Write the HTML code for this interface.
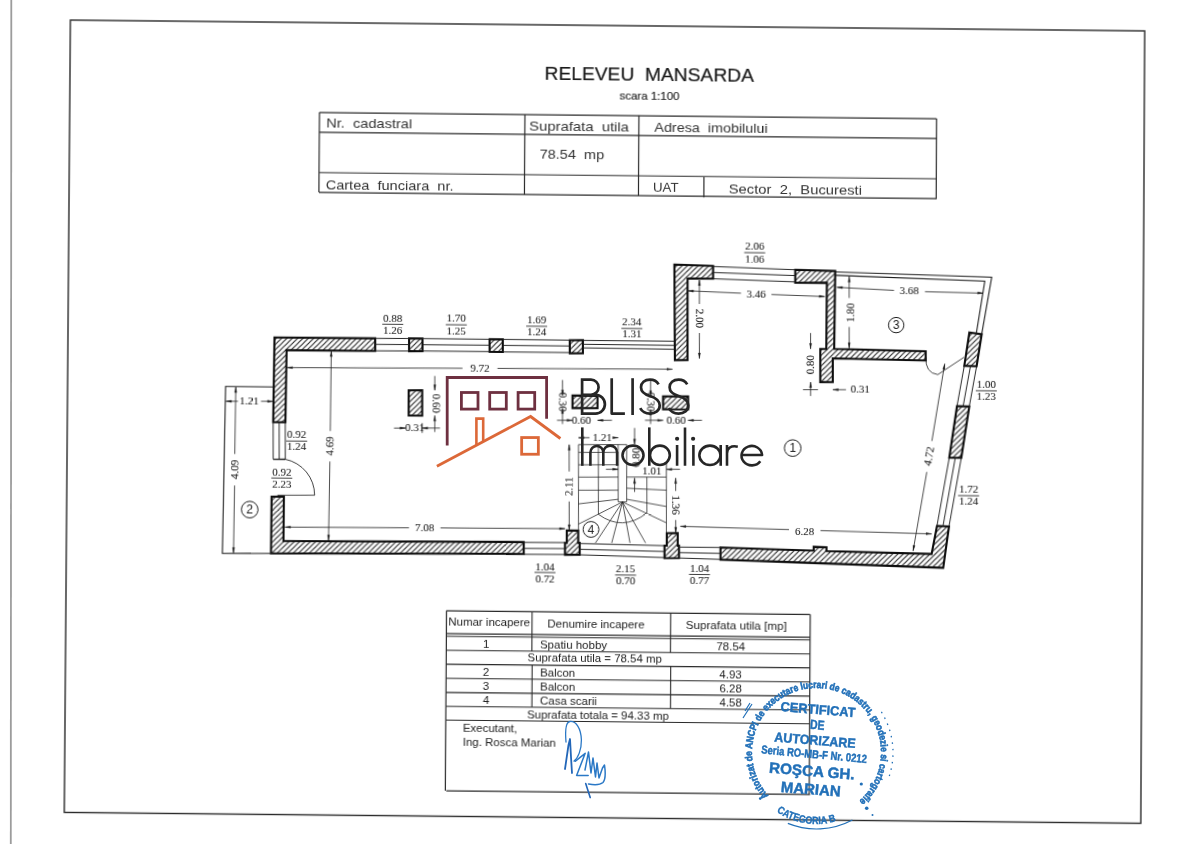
<!DOCTYPE html>
<html><head><meta charset="utf-8"><style>
html,body{margin:0;padding:0;background:#fff;}
body{width:1200px;height:844px;overflow:hidden;position:relative;}
svg{position:absolute;left:0;top:0;}
#doc{transform-origin:0 0;transform:matrix3d(0.999186472,0.0100431101,0,-9.12338465e-08,-0.00786254759,0.997594461,0,-2.57904967e-06,0,0,1,0,0.610116995,-0.556072081,0,1);}
</style></head><body>
<svg id="doc" width="1200" height="844" viewBox="0 0 1200 844">
<defs><pattern id="hatch" patternUnits="userSpaceOnUse" width="5.3" height="5.3"><path d="M-1,1 L1,-1 M0,5.3 L5.3,0 M4.3,6.3 L6.3,4.3" stroke="#141414" stroke-width="1.05"/></pattern></defs>
<rect x="70" y="20" width="1075" height="792.5" fill="none" stroke="#2a2a2a" stroke-width="1.4"/>
<text xml:space="preserve" x="544.79" y="75.05" font-family="Liberation Sans" font-size="18.5" text-anchor="start" fill="#1a1a1a" font-weight="normal" textLength="209.5" lengthAdjust="spacingAndGlyphs" stroke="#1a1a1a" stroke-width="0.2">RELEVEU  MANSARDA</text>
<text xml:space="preserve" x="619.95" y="93.73" font-family="Liberation Sans" font-size="11" text-anchor="start" fill="#222" font-weight="normal" textLength="60" lengthAdjust="spacingAndGlyphs" stroke="#222" stroke-width="0.15">scara 1:100</text>
<line x1="319.82" y1="110.07" x2="937.17" y2="110.07" stroke="#2a2a2a" stroke-width="1.2"/>
<line x1="319.96" y1="129.95" x2="937.18" y2="129.95" stroke="#2a2a2a" stroke-width="1.2"/>
<line x1="320.04" y1="170.26" x2="937.3" y2="170.26" stroke="#2a2a2a" stroke-width="1.2"/>
<line x1="319.98" y1="190.19" x2="937.41" y2="190.19" stroke="#2a2a2a" stroke-width="1.2"/>
<line x1="319.9" y1="110.07" x2="319.9" y2="190" stroke="#2a2a2a" stroke-width="1.2"/>
<line x1="937.29" y1="110.06" x2="937.29" y2="190.38" stroke="#2a2a2a" stroke-width="1.2"/>
<line x1="525.47" y1="110.01" x2="525.47" y2="189.93" stroke="#2a2a2a" stroke-width="1.2"/>
<line x1="639.5" y1="109.86" x2="639.5" y2="189.98" stroke="#2a2a2a" stroke-width="1.2"/>
<line x1="704.91" y1="170.8" x2="704.91" y2="191.33" stroke="#2a2a2a" stroke-width="1.2"/>
<text xml:space="preserve" x="326.73" y="125.33" font-family="Liberation Sans" font-size="12.6" text-anchor="start" fill="#333" font-weight="normal" textLength="86" lengthAdjust="spacingAndGlyphs" >Nr.  cadastral</text>
<text xml:space="preserve" x="529.81" y="125.99" font-family="Liberation Sans" font-size="12.6" text-anchor="start" fill="#333" font-weight="normal" textLength="99.8" lengthAdjust="spacingAndGlyphs" >Suprafata  utila</text>
<text xml:space="preserve" x="540.4" y="154.03" font-family="Liberation Sans" font-size="12.6" text-anchor="start" fill="#333" font-weight="normal" textLength="64.7" lengthAdjust="spacingAndGlyphs" >78.54  mp</text>
<text xml:space="preserve" x="326.66" y="186.53" font-family="Liberation Sans" font-size="12.6" text-anchor="start" fill="#333" font-weight="normal" textLength="127.9" lengthAdjust="spacingAndGlyphs" >Cartea  funciara  nr.</text>
<text xml:space="preserve" x="655.06" y="126.23" font-family="Liberation Sans" font-size="12.6" text-anchor="start" fill="#333" font-weight="normal" textLength="113.3" lengthAdjust="spacingAndGlyphs" >Adresa  imobilului</text>
<text xml:space="preserve" x="654.03" y="185.93" font-family="Liberation Sans" font-size="12.6" text-anchor="start" fill="#333" font-weight="normal" textLength="25.6" lengthAdjust="spacingAndGlyphs" >UAT</text>
<text xml:space="preserve" x="729.65" y="186.57" font-family="Liberation Sans" font-size="12.6" text-anchor="start" fill="#333" font-weight="normal" textLength="133.4" lengthAdjust="spacingAndGlyphs" >Sector  2,  Bucuresti</text>
<polygon points="276.51,335.69 377.2,335.57 377.29,348.28 288.7,348.37 288.01,420.41 275.82,420.53" fill="url(#hatch)" stroke="#0d0d0d" stroke-width="2.1" stroke-linejoin="miter"/>
<polygon points="411.09,335.33 424.49,335.19 424.58,348 411.18,348.14" fill="url(#hatch)" stroke="#0d0d0d" stroke-width="2.1" stroke-linejoin="miter"/>
<polygon points="491.58,335.42 504.78,335.28 504.86,347.89 491.66,348.02" fill="url(#hatch)" stroke="#0d0d0d" stroke-width="2.1" stroke-linejoin="miter"/>
<polygon points="571.77,335.51 584.87,335.38 584.95,348.48 571.85,348.62" fill="url(#hatch)" stroke="#0d0d0d" stroke-width="2.1" stroke-linejoin="miter"/>
<polygon points="675.88,258.8 714.59,259.81 714.67,272.57 689.17,272.58 689.56,354.23 676.97,354.36" fill="url(#hatch)" stroke="#0d0d0d" stroke-width="2.1" stroke-linejoin="miter"/>
<polygon points="796.76,262.73 836.76,263.58 836.16,341.55 927.64,343.02 927.69,352.23 834.81,350.96 834.95,374.77 822.45,374.9 822.26,341.69 828.26,341.63 828.48,275.43 796.83,275.75" fill="url(#hatch)" stroke="#0d0d0d" stroke-width="2.1" stroke-linejoin="miter"/>
<polygon points="971.23,323.77 983.54,325.45 978.61,357.52 966.31,357.14" fill="url(#hatch)" stroke="#0d0d0d" stroke-width="2.1" stroke-linejoin="miter"/>
<polygon points="959.23,397.63 971.53,397.7 963.81,449.19 951.81,449.11" fill="url(#hatch)" stroke="#0d0d0d" stroke-width="2.1" stroke-linejoin="miter"/>
<polygon points="939.89,517.51 951.89,517.99 946.32,559.33 723.75,553.38 723.68,541.29 816.83,543.45 816.8,539.65 829.6,539.92 829.62,543.72 934.65,545.66" fill="url(#hatch)" stroke="#0d0d0d" stroke-width="2.1" stroke-linejoin="miter"/>
<polygon points="274.75,494.94 287.04,494.82 286.96,539.2 527.05,537.78 527.12,549.67 274.56,551.72" fill="url(#hatch)" stroke="#0d0d0d" stroke-width="2.1" stroke-linejoin="miter"/>
<polygon points="569.99,525.85 581.38,525.73 581.46,538.13 582.96,538.11 583.04,550.01 568.35,550.16 568.27,538.26 570.07,538.24" fill="url(#hatch)" stroke="#0d0d0d" stroke-width="2.1" stroke-linejoin="miter"/>
<polygon points="669.93,527.54 680.83,527.43 680.9,539.92 682.2,539.91 682.28,552.3 667.79,552.45 667.71,540.06 670.01,540.03" fill="url(#hatch)" stroke="#0d0d0d" stroke-width="2.1" stroke-linejoin="miter"/>
<polygon points="411.05,387.26 424.54,387.12 424.71,412.42 411.22,412.56" fill="url(#hatch)" stroke="#0d0d0d" stroke-width="2.1" stroke-linejoin="miter"/>
<polygon points="574.82,390.9 599.81,390.65 599.89,403.15 574.9,403.41" fill="url(#hatch)" stroke="#0d0d0d" stroke-width="2.1" stroke-linejoin="miter"/>
<polygon points="665.39,390.69 690.39,390.44 690.46,403.54 665.48,403.79" fill="url(#hatch)" stroke="#0d0d0d" stroke-width="2.1" stroke-linejoin="miter"/>
<line x1="377.2" y1="335.67" x2="411.09" y2="335.43" stroke="#1e1e1e" stroke-width="0.95" />
<line x1="377.24" y1="341.67" x2="411.13" y2="341.53" stroke="#1e1e1e" stroke-width="0.95" />
<line x1="377.28" y1="348.08" x2="411.18" y2="347.94" stroke="#1e1e1e" stroke-width="0.95" />
<line x1="424.49" y1="335.39" x2="491.58" y2="335.42" stroke="#1e1e1e" stroke-width="0.95" />
<line x1="424.53" y1="341.5" x2="491.62" y2="341.32" stroke="#1e1e1e" stroke-width="0.95" />
<line x1="424.57" y1="347.8" x2="491.66" y2="347.72" stroke="#1e1e1e" stroke-width="0.95" />
<line x1="504.78" y1="335.38" x2="571.77" y2="335.51" stroke="#1e1e1e" stroke-width="0.95" />
<line x1="504.82" y1="341.39" x2="571.81" y2="341.31" stroke="#1e1e1e" stroke-width="0.95" />
<line x1="504.86" y1="347.89" x2="571.85" y2="347.92" stroke="#1e1e1e" stroke-width="0.95" />
<line x1="584.87" y1="335.58" x2="676.55" y2="335.5" stroke="#1e1e1e" stroke-width="0.95" />
<line x1="584.89" y1="339.48" x2="676.58" y2="339.65" stroke="#1e1e1e" stroke-width="0.95" />
<line x1="584.92" y1="343.08" x2="676.6" y2="343.56" stroke="#1e1e1e" stroke-width="0.95" />
<line x1="714.59" y1="260.31" x2="796.76" y2="262.73" stroke="#1e1e1e" stroke-width="0.95" />
<line x1="714.63" y1="266.31" x2="796.79" y2="268.59" stroke="#1e1e1e" stroke-width="0.95" />
<line x1="714.67" y1="272.57" x2="796.83" y2="274.89" stroke="#1e1e1e" stroke-width="0.95" />
<line x1="527.05" y1="538.18" x2="568.27" y2="537.96" stroke="#1e1e1e" stroke-width="0.95" />
<line x1="527.09" y1="544.18" x2="568.31" y2="543.96" stroke="#1e1e1e" stroke-width="0.95" />
<line x1="527.13" y1="550.07" x2="568.34" y2="549.86" stroke="#1e1e1e" stroke-width="0.95" />
<line x1="582.96" y1="538.71" x2="667.71" y2="540.06" stroke="#1e1e1e" stroke-width="0.95" />
<line x1="583" y1="544.51" x2="667.75" y2="545.85" stroke="#1e1e1e" stroke-width="0.95" />
<line x1="583.04" y1="550.01" x2="667.79" y2="551.95" stroke="#1e1e1e" stroke-width="0.95" />
<line x1="682.21" y1="541.31" x2="723.68" y2="541.29" stroke="#1e1e1e" stroke-width="0.95" />
<line x1="682.24" y1="546.81" x2="723.72" y2="547.19" stroke="#1e1e1e" stroke-width="0.95" />
<line x1="682.28" y1="552.2" x2="723.75" y2="553.18" stroke="#1e1e1e" stroke-width="0.95" />
<line x1="966.31" y1="357.14" x2="959.23" y2="397.63" stroke="#1e1e1e" stroke-width="0.95" />
<line x1="972.51" y1="357.28" x2="965.33" y2="397.67" stroke="#1e1e1e" stroke-width="0.95" />
<line x1="978.61" y1="357.52" x2="971.53" y2="397.7" stroke="#1e1e1e" stroke-width="0.95" />
<line x1="951.81" y1="449.11" x2="939.89" y2="517.51" stroke="#1e1e1e" stroke-width="0.95" />
<line x1="957.81" y1="449.15" x2="945.89" y2="517.75" stroke="#1e1e1e" stroke-width="0.95" />
<line x1="963.81" y1="449.19" x2="951.89" y2="517.99" stroke="#1e1e1e" stroke-width="0.95" />
<line x1="275.82" y1="420.53" x2="276.08" y2="457.63" stroke="#1e1e1e" stroke-width="0.95" />
<line x1="281.82" y1="420.47" x2="282.08" y2="457.57" stroke="#1e1e1e" stroke-width="0.95" />
<line x1="287.91" y1="420.41" x2="288.18" y2="457.51" stroke="#1e1e1e" stroke-width="0.95" />
<line x1="276.08" y1="457.63" x2="288.18" y2="457.51" stroke="#1e1e1e" stroke-width="1.4" />
<polyline points="836.77,264.48 993.23,268.31 983.54,325.45" fill="none" stroke="#1e1e1e" stroke-width="1.1" />
<polyline points="836.79,267.84 986.35,272.28 978.13,324.8" fill="none" stroke="#1e1e1e" stroke-width="1.1" />
<polyline points="275.56,385.22 227.98,385.2 225.99,552.22 274.56,551.72" fill="none" stroke="#1e1e1e" stroke-width="1.1" />
<path d="M288.18,457.51 A36.4,36.4 0 0 1 317.72,493.11" fill="none" stroke="#1e1e1e" stroke-width="0.85"/>
<line x1="280.64" y1="493.48" x2="317.92" y2="493.11" stroke="#1e1e1e" stroke-width="0.8" />
<path d="M 927.88,348.72 Q 927.06,364.74 939.87,366.21" fill="none" stroke="#1e1e1e" stroke-width="0.8"/>
<line x1="939.87" y1="366.21" x2="965.97" y2="348.64" stroke="#1e1e1e" stroke-width="0.8" />
<line x1="581.13" y1="439.85" x2="581.76" y2="538.23" stroke="#1e1e1e" stroke-width="0.75" />
<line x1="581.13" y1="439.85" x2="629.31" y2="439.36" stroke="#1e1e1e" stroke-width="0.75" />
<line x1="620.81" y1="439.45" x2="621.17" y2="496.74" stroke="#1e1e1e" stroke-width="0.75" />
<line x1="629.31" y1="439.36" x2="629.67" y2="496.66" stroke="#1e1e1e" stroke-width="0.75" />
<line x1="621.17" y1="496.74" x2="629.67" y2="496.66" stroke="#1e1e1e" stroke-width="0.75" />
<line x1="629.51" y1="471.86" x2="669.19" y2="471.46" stroke="#1e1e1e" stroke-width="0.75" />
<line x1="669.19" y1="471.46" x2="669.53" y2="527.34" stroke="#1e1e1e" stroke-width="0.75" />
<line x1="601.02" y1="439.65" x2="601.46" y2="509.34" stroke="#1e1e1e" stroke-width="0.75" />
<line x1="649.7" y1="471.66" x2="649.92" y2="507.55" stroke="#1e1e1e" stroke-width="0.75" />
<line x1="581.18" y1="447.65" x2="620.86" y2="447.25" stroke="#1e1e1e" stroke-width="0.75" />
<line x1="581.26" y1="460.05" x2="620.94" y2="459.65" stroke="#1e1e1e" stroke-width="0.75" />
<line x1="581.34" y1="472.35" x2="621.02" y2="471.95" stroke="#1e1e1e" stroke-width="0.75" />
<line x1="581.42" y1="485.44" x2="621.1" y2="485.04" stroke="#1e1e1e" stroke-width="0.75" />
<line x1="581.51" y1="499.14" x2="621.16" y2="494.14" stroke="#1e1e1e" stroke-width="0.75" />
<line x1="629.58" y1="482.96" x2="669.27" y2="484.56" stroke="#1e1e1e" stroke-width="0.75" />
<line x1="629.65" y1="494.06" x2="669.37" y2="500.85" stroke="#1e1e1e" stroke-width="0.75" />
<line x1="625.47" y1="496.8" x2="581.64" y2="519.33" stroke="#1e1e1e" stroke-width="0.75" />
<line x1="625.47" y1="496.8" x2="598.65" y2="538.05" stroke="#1e1e1e" stroke-width="0.75" />
<line x1="625.47" y1="496.8" x2="614.94" y2="537.89" stroke="#1e1e1e" stroke-width="0.75" />
<line x1="625.47" y1="496.8" x2="633.22" y2="537.71" stroke="#1e1e1e" stroke-width="0.75" />
<line x1="625.47" y1="496.8" x2="648.81" y2="537.55" stroke="#1e1e1e" stroke-width="0.75" />
<line x1="625.47" y1="496.8" x2="669.47" y2="517.15" stroke="#1e1e1e" stroke-width="0.75" />
<path d="M 601.46,509.34 Q 625.66,526.79 649.92,507.55" fill="none" stroke="#1e1e1e" stroke-width="0.75"/>
<line x1="289.22" y1="365.77" x2="464.68" y2="364.7" stroke="#1e1e1e" stroke-width="0.8" />
<line x1="499.67" y1="364.45" x2="674.52" y2="363.49" stroke="#1e1e1e" stroke-width="0.8" />
<polygon points="289.22,365.77 294.72,364.64 294.72,366.84" fill="#1e1e1e" stroke="#1e1e1e" stroke-width="0.3" />
<polygon points="674.52,363.49 669.03,364.62 669.02,362.42" fill="#1e1e1e" stroke="#1e1e1e" stroke-width="0.3" />
<line x1="333.39" y1="348.72" x2="332.96" y2="428.75" stroke="#1e1e1e" stroke-width="0.8" />
<line x1="332.77" y1="459.26" x2="331.93" y2="538.25" stroke="#1e1e1e" stroke-width="0.8" />
<polygon points="333.39,348.72 334.45,354.23 332.25,354.22" fill="#1e1e1e" stroke="#1e1e1e" stroke-width="0.3" />
<polygon points="331.93,538.25 330.87,532.75 333.07,532.76" fill="#1e1e1e" stroke="#1e1e1e" stroke-width="0.3" />
<line x1="288.36" y1="525.3" x2="412.28" y2="524.74" stroke="#1e1e1e" stroke-width="0.8" />
<line x1="443.76" y1="524.53" x2="568.18" y2="524.07" stroke="#1e1e1e" stroke-width="0.8" />
<polygon points="288.36,525.3 293.86,524.17 293.86,526.37" fill="#1e1e1e" stroke="#1e1e1e" stroke-width="0.3" />
<polygon points="568.18,524.07 562.68,525.19 562.68,522.99" fill="#1e1e1e" stroke="#1e1e1e" stroke-width="0.3" />
<line x1="683.48" y1="520.5" x2="792.02" y2="522.71" stroke="#1e1e1e" stroke-width="0.8" />
<line x1="823.51" y1="523.39" x2="934.54" y2="525.57" stroke="#1e1e1e" stroke-width="0.8" />
<polygon points="683.48,520.5 689,519.52 688.95,521.71" fill="#1e1e1e" stroke="#1e1e1e" stroke-width="0.3" />
<polygon points="934.54,525.57 929.02,526.55 929.07,524.36" fill="#1e1e1e" stroke="#1e1e1e" stroke-width="0.3" />
<line x1="238.18" y1="385.7" x2="237.66" y2="452.72" stroke="#1e1e1e" stroke-width="0.8" />
<line x1="237.69" y1="484.22" x2="237.08" y2="551.7" stroke="#1e1e1e" stroke-width="0.8" />
<polygon points="238.18,385.7 239.24,391.2 237.04,391.2" fill="#1e1e1e" stroke="#1e1e1e" stroke-width="0.3" />
<polygon points="237.08,551.7 236.02,546.2 238.22,546.21" fill="#1e1e1e" stroke="#1e1e1e" stroke-width="0.3" />
<line x1="228.48" y1="400.1" x2="240.48" y2="399.98" stroke="#1e1e1e" stroke-width="0.8" />
<line x1="263.47" y1="399.75" x2="275.47" y2="399.63" stroke="#1e1e1e" stroke-width="0.8" />
<polygon points="228.48,400.1 233.97,398.95 233.99,401.15" fill="#1e1e1e" stroke="#1e1e1e" stroke-width="0.3" />
<polygon points="275.47,399.63 269.98,400.78 269.96,398.58" fill="#1e1e1e" stroke="#1e1e1e" stroke-width="0.3" />
<line x1="689.64" y1="284.88" x2="742.65" y2="286.75" stroke="#1e1e1e" stroke-width="0.8" />
<line x1="773.15" y1="287.74" x2="826.36" y2="289.31" stroke="#1e1e1e" stroke-width="0.8" />
<polygon points="689.64,284.88 695.18,283.96 695.1,286.16" fill="#1e1e1e" stroke="#1e1e1e" stroke-width="0.3" />
<polygon points="826.36,289.31 820.82,290.23 820.9,288.03" fill="#1e1e1e" stroke="#1e1e1e" stroke-width="0.3" />
<line x1="838.6" y1="279.88" x2="895.61" y2="282.41" stroke="#1e1e1e" stroke-width="0.8" />
<line x1="926.62" y1="283.39" x2="984.82" y2="284.31" stroke="#1e1e1e" stroke-width="0.8" />
<polygon points="838.6,279.88 844.14,278.94 844.06,281.14" fill="#1e1e1e" stroke="#1e1e1e" stroke-width="0.3" />
<polygon points="984.82,284.31 979.28,285.24 979.36,283.04" fill="#1e1e1e" stroke="#1e1e1e" stroke-width="0.3" />
<line x1="700.98" y1="273.96" x2="701.12" y2="297.98" stroke="#1e1e1e" stroke-width="0.8" />
<line x1="701.3" y1="327" x2="701.45" y2="352.51" stroke="#1e1e1e" stroke-width="0.8" />
<polygon points="700.98,273.96 702.11,279.45 699.91,279.48" fill="#1e1e1e" stroke="#1e1e1e" stroke-width="0.3" />
<polygon points="701.45,352.51 700.32,347.02 702.52,347" fill="#1e1e1e" stroke="#1e1e1e" stroke-width="0.3" />
<line x1="850.74" y1="269.05" x2="850.86" y2="290.46" stroke="#1e1e1e" stroke-width="0.8" />
<line x1="851.03" y1="319.48" x2="851.15" y2="340.69" stroke="#1e1e1e" stroke-width="0.8" />
<polygon points="850.74,269.05 851.87,274.54 849.67,274.56" fill="#1e1e1e" stroke="#1e1e1e" stroke-width="0.3" />
<polygon points="851.15,340.69 850.02,335.2 852.22,335.18" fill="#1e1e1e" stroke="#1e1e1e" stroke-width="0.3" />
<line x1="946.71" y1="355.44" x2="934.33" y2="432.68" stroke="#1e1e1e" stroke-width="0.8" />
<line x1="929.41" y1="463.73" x2="916.15" y2="542.74" stroke="#1e1e1e" stroke-width="0.8" />
<polygon points="946.71,355.44 946.91,361.05 944.74,360.7" fill="#1e1e1e" stroke="#1e1e1e" stroke-width="0.3" />
<polygon points="916.15,542.74 915.95,537.14 918.12,537.49" fill="#1e1e1e" stroke="#1e1e1e" stroke-width="0.3" />
<line x1="571.84" y1="439.94" x2="572.01" y2="466.84" stroke="#1e1e1e" stroke-width="0.8" />
<line x1="572.2" y1="496.84" x2="572.39" y2="525.53" stroke="#1e1e1e" stroke-width="0.8" />
<polygon points="571.84,439.94 572.97,445.43 570.77,445.45" fill="#1e1e1e" stroke="#1e1e1e" stroke-width="0.3" />
<polygon points="572.39,525.53 571.25,520.04 573.45,520.02" fill="#1e1e1e" stroke="#1e1e1e" stroke-width="0.3" />
<line x1="678.49" y1="472.27" x2="678.57" y2="485.26" stroke="#1e1e1e" stroke-width="0.8" />
<line x1="678.75" y1="514.25" x2="678.83" y2="527.05" stroke="#1e1e1e" stroke-width="0.8" />
<polygon points="678.49,472.27 679.62,477.75 677.42,477.78" fill="#1e1e1e" stroke="#1e1e1e" stroke-width="0.3" />
<polygon points="678.83,527.05 677.69,521.56 679.89,521.54" fill="#1e1e1e" stroke="#1e1e1e" stroke-width="0.3" />
<line x1="581.09" y1="432.95" x2="592.08" y2="432.84" stroke="#1e1e1e" stroke-width="0.8" />
<line x1="617.57" y1="432.58" x2="620.77" y2="432.55" stroke="#1e1e1e" stroke-width="0.8" />
<polygon points="581.09,432.95 586.58,431.79 586.59,433.99" fill="#1e1e1e" stroke="#1e1e1e" stroke-width="0.3" />
<polygon points="620.77,432.55 615.28,433.7 615.27,431.5" fill="#1e1e1e" stroke="#1e1e1e" stroke-width="0.3" />
<line x1="608.78" y1="464.27" x2="620.97" y2="464.15" stroke="#1e1e1e" stroke-width="0.8" />
<polygon points="620.97,464.15 615.48,465.3 615.47,463.1" fill="#1e1e1e" stroke="#1e1e1e" stroke-width="0.3" />
<line x1="669.14" y1="463.66" x2="682.73" y2="463.52" stroke="#1e1e1e" stroke-width="0.8" />
<polygon points="669.14,463.66 674.63,462.51 674.65,464.71" fill="#1e1e1e" stroke="#1e1e1e" stroke-width="0.3" />
<line x1="669.14" y1="456.36" x2="669.14" y2="471.46" stroke="#1e1e1e" stroke-width="0.8"/>
<line x1="637.1" y1="422.68" x2="637.21" y2="439.28" stroke="#1e1e1e" stroke-width="0.8" />
<polygon points="637.21,439.28 636.07,433.79 638.27,433.77" fill="#1e1e1e" stroke="#1e1e1e" stroke-width="0.3" />
<line x1="637.41" y1="472.68" x2="637.5" y2="486.68" stroke="#1e1e1e" stroke-width="0.8" />
<polygon points="637.41,472.68 638.55,478.17 636.35,478.19" fill="#1e1e1e" stroke="#1e1e1e" stroke-width="0.3" />
<line x1="437.04" y1="372.69" x2="437.14" y2="386.99" stroke="#1e1e1e" stroke-width="0.8" />
<polygon points="437.14,386.99 436,381.5 438.2,381.48" fill="#1e1e1e" stroke="#1e1e1e" stroke-width="0.3" />
<line x1="437.31" y1="412.3" x2="437.42" y2="428.7" stroke="#1e1e1e" stroke-width="0.8" />
<polygon points="437.31,412.3 438.44,417.79 436.25,417.81" fill="#1e1e1e" stroke="#1e1e1e" stroke-width="0.3" />
<line x1="396.61" y1="425.21" x2="408.1" y2="425.09" stroke="#1e1e1e" stroke-width="0.8" />
<polygon points="408.1,425.09 402.61,426.25 402.6,424.05" fill="#1e1e1e" stroke="#1e1e1e" stroke-width="0.3" />
<line x1="424.8" y1="424.93" x2="442.59" y2="424.75" stroke="#1e1e1e" stroke-width="0.8" />
<polygon points="424.8,424.93 430.29,423.77 430.3,425.97" fill="#1e1e1e" stroke="#1e1e1e" stroke-width="0.3" />
<line x1="424.76" y1="419.83" x2="424.83" y2="429.83" stroke="#1e1e1e" stroke-width="0.8" />
<line x1="564.73" y1="375.4" x2="564.83" y2="391" stroke="#1e1e1e" stroke-width="0.8" />
<polygon points="564.83,391 563.69,385.51 565.89,385.49" fill="#1e1e1e" stroke="#1e1e1e" stroke-width="0.3" />
<line x1="564.91" y1="403.51" x2="565.01" y2="419.41" stroke="#1e1e1e" stroke-width="0.8" />
<polygon points="564.91,403.51 566.04,409 563.84,409.02" fill="#1e1e1e" stroke="#1e1e1e" stroke-width="0.3" />
<line x1="559.49" y1="415.77" x2="574.98" y2="415.61" stroke="#1e1e1e" stroke-width="0.8" />
<polygon points="574.98,415.61 569.49,416.76 569.48,414.56" fill="#1e1e1e" stroke="#1e1e1e" stroke-width="0.3" />
<line x1="599.97" y1="415.36" x2="614.46" y2="415.21" stroke="#1e1e1e" stroke-width="0.8" />
<polygon points="599.97,415.36 605.46,414.2 605.48,416.4" fill="#1e1e1e" stroke="#1e1e1e" stroke-width="0.3" />
<line x1="652.8" y1="374.51" x2="652.9" y2="390.82" stroke="#1e1e1e" stroke-width="0.8" />
<polygon points="652.9,390.82 651.77,385.33 653.96,385.3" fill="#1e1e1e" stroke="#1e1e1e" stroke-width="0.3" />
<line x1="652.98" y1="403.92" x2="653.07" y2="418.52" stroke="#1e1e1e" stroke-width="0.8" />
<polygon points="652.98,403.92 654.11,409.41 651.91,409.43" fill="#1e1e1e" stroke="#1e1e1e" stroke-width="0.3" />
<line x1="647.45" y1="414.88" x2="665.54" y2="414.69" stroke="#1e1e1e" stroke-width="0.8" />
<polygon points="665.54,414.69 660.05,415.85 660.04,413.65" fill="#1e1e1e" stroke="#1e1e1e" stroke-width="0.3" />
<line x1="690.53" y1="414.44" x2="704.43" y2="414.3" stroke="#1e1e1e" stroke-width="0.8" />
<polygon points="690.53,414.44 696.02,413.29 696.04,415.49" fill="#1e1e1e" stroke="#1e1e1e" stroke-width="0.3" />
<line x1="812.47" y1="325.88" x2="812.56" y2="341.78" stroke="#1e1e1e" stroke-width="0.8" />
<polygon points="812.56,341.78 811.43,336.29 813.63,336.27" fill="#1e1e1e" stroke="#1e1e1e" stroke-width="0.3" />
<line x1="812.76" y1="375" x2="812.84" y2="388.9" stroke="#1e1e1e" stroke-width="0.8" />
<polygon points="812.76,375 813.89,380.49 811.69,380.51" fill="#1e1e1e" stroke="#1e1e1e" stroke-width="0.3" />
<line x1="805.2" y1="382.68" x2="820.2" y2="382.53" stroke="#1e1e1e" stroke-width="0.8" />
<line x1="834.99" y1="382.38" x2="848.19" y2="382.24" stroke="#1e1e1e" stroke-width="0.8" />
<polygon points="834.99,382.38 840.48,381.22 840.5,383.42" fill="#1e1e1e" stroke="#1e1e1e" stroke-width="0.3" />
<text xml:space="preserve" x="394.66" y="318.58" font-family="Liberation Serif" font-size="11" text-anchor="middle" fill="#1e1e1e" font-weight="normal"  stroke="#1e1e1e" stroke-width="0.08">0.88</text>
<text xml:space="preserve" x="394.74" y="331.19" font-family="Liberation Serif" font-size="11" text-anchor="middle" fill="#1e1e1e" font-weight="normal"  stroke="#1e1e1e" stroke-width="0.08">1.26</text>
<line x1="384.2" y1="321.38" x2="405.2" y2="321.38" stroke="#1e1e1e" stroke-width="0.85"/>
<text xml:space="preserve" x="458.15" y="318.34" font-family="Liberation Serif" font-size="11" text-anchor="middle" fill="#1e1e1e" font-weight="normal"  stroke="#1e1e1e" stroke-width="0.08">1.70</text>
<text xml:space="preserve" x="458.23" y="330.95" font-family="Liberation Serif" font-size="11" text-anchor="middle" fill="#1e1e1e" font-weight="normal"  stroke="#1e1e1e" stroke-width="0.08">1.25</text>
<line x1="447.69" y1="321.24" x2="468.69" y2="321.24" stroke="#1e1e1e" stroke-width="0.85"/>
<text xml:space="preserve" x="538.55" y="319.43" font-family="Liberation Serif" font-size="11" text-anchor="middle" fill="#1e1e1e" font-weight="normal"  stroke="#1e1e1e" stroke-width="0.08">1.69</text>
<text xml:space="preserve" x="538.63" y="331.44" font-family="Liberation Serif" font-size="11" text-anchor="middle" fill="#1e1e1e" font-weight="normal"  stroke="#1e1e1e" stroke-width="0.08">1.24</text>
<line x1="528.09" y1="321.93" x2="549.09" y2="321.93" stroke="#1e1e1e" stroke-width="0.85"/>
<text xml:space="preserve" x="633.75" y="320.37" font-family="Liberation Serif" font-size="11" text-anchor="middle" fill="#1e1e1e" font-weight="normal"  stroke="#1e1e1e" stroke-width="0.08">2.34</text>
<text xml:space="preserve" x="633.82" y="332.18" font-family="Liberation Serif" font-size="11" text-anchor="middle" fill="#1e1e1e" font-weight="normal"  stroke="#1e1e1e" stroke-width="0.08">1.31</text>
<line x1="623.29" y1="323.18" x2="644.28" y2="323.18" stroke="#1e1e1e" stroke-width="0.85"/>
<text xml:space="preserve" x="756.07" y="243.17" font-family="Liberation Serif" font-size="11" text-anchor="middle" fill="#1e1e1e" font-weight="normal"  stroke="#1e1e1e" stroke-width="0.08">2.06</text>
<text xml:space="preserve" x="756.15" y="255.58" font-family="Liberation Serif" font-size="11" text-anchor="middle" fill="#1e1e1e" font-weight="normal"  stroke="#1e1e1e" stroke-width="0.08">1.06</text>
<line x1="745.61" y1="246.08" x2="766.61" y2="246.08" stroke="#1e1e1e" stroke-width="0.85"/>
<text xml:space="preserve" x="988.4" y="379.13" font-family="Liberation Serif" font-size="11" text-anchor="middle" fill="#1e1e1e" font-weight="normal"  stroke="#1e1e1e" stroke-width="0.08">1.00</text>
<text xml:space="preserve" x="988.47" y="391.43" font-family="Liberation Serif" font-size="11" text-anchor="middle" fill="#1e1e1e" font-weight="normal"  stroke="#1e1e1e" stroke-width="0.08">1.23</text>
<line x1="977.94" y1="381.93" x2="998.93" y2="381.93" stroke="#1e1e1e" stroke-width="0.85"/>
<text xml:space="preserve" x="971.27" y="483.91" font-family="Liberation Serif" font-size="11" text-anchor="middle" fill="#1e1e1e" font-weight="normal"  stroke="#1e1e1e" stroke-width="0.08">1.72</text>
<text xml:space="preserve" x="971.34" y="496.2" font-family="Liberation Serif" font-size="11" text-anchor="middle" fill="#1e1e1e" font-weight="normal"  stroke="#1e1e1e" stroke-width="0.08">1.24</text>
<line x1="960.81" y1="487.01" x2="981.8" y2="487.01" stroke="#1e1e1e" stroke-width="0.85"/>
<text xml:space="preserve" x="299.4" y="436.09" font-family="Liberation Serif" font-size="11" text-anchor="middle" fill="#1e1e1e" font-weight="normal"  stroke="#1e1e1e" stroke-width="0.08">0.92</text>
<text xml:space="preserve" x="299.48" y="448.29" font-family="Liberation Serif" font-size="11" text-anchor="middle" fill="#1e1e1e" font-weight="normal"  stroke="#1e1e1e" stroke-width="0.08">1.24</text>
<line x1="288.95" y1="439.19" x2="309.94" y2="439.19" stroke="#1e1e1e" stroke-width="0.85"/>
<text xml:space="preserve" x="284.77" y="473.94" font-family="Liberation Serif" font-size="11" text-anchor="middle" fill="#1e1e1e" font-weight="normal"  stroke="#1e1e1e" stroke-width="0.08">0.92</text>
<text xml:space="preserve" x="284.86" y="486.04" font-family="Liberation Serif" font-size="11" text-anchor="middle" fill="#1e1e1e" font-weight="normal"  stroke="#1e1e1e" stroke-width="0.08">2.23</text>
<line x1="274.32" y1="476.34" x2="295.31" y2="476.34" stroke="#1e1e1e" stroke-width="0.85"/>
<text xml:space="preserve" x="548.44" y="565.55" font-family="Liberation Serif" font-size="11" text-anchor="middle" fill="#1e1e1e" font-weight="normal"  stroke="#1e1e1e" stroke-width="0.08">1.04</text>
<text xml:space="preserve" x="548.52" y="578.04" font-family="Liberation Serif" font-size="11" text-anchor="middle" fill="#1e1e1e" font-weight="normal"  stroke="#1e1e1e" stroke-width="0.08">0.72</text>
<line x1="537.99" y1="568.05" x2="558.97" y2="568.05" stroke="#1e1e1e" stroke-width="0.85"/>
<text xml:space="preserve" x="628.99" y="567.04" font-family="Liberation Serif" font-size="11" text-anchor="middle" fill="#1e1e1e" font-weight="normal"  stroke="#1e1e1e" stroke-width="0.08">2.15</text>
<text xml:space="preserve" x="629.06" y="579.13" font-family="Liberation Serif" font-size="11" text-anchor="middle" fill="#1e1e1e" font-weight="normal"  stroke="#1e1e1e" stroke-width="0.08">0.70</text>
<line x1="618.54" y1="569.83" x2="639.52" y2="569.83" stroke="#1e1e1e" stroke-width="0.85"/>
<text xml:space="preserve" x="702.83" y="566.29" font-family="Liberation Serif" font-size="11" text-anchor="middle" fill="#1e1e1e" font-weight="normal"  stroke="#1e1e1e" stroke-width="0.08">1.04</text>
<text xml:space="preserve" x="702.9" y="578.28" font-family="Liberation Serif" font-size="11" text-anchor="middle" fill="#1e1e1e" font-weight="normal"  stroke="#1e1e1e" stroke-width="0.08">0.77</text>
<line x1="692.37" y1="568.49" x2="713.35" y2="568.49" stroke="#1e1e1e" stroke-width="0.85"/>
<text xml:space="preserve" x="482.18" y="368.23" font-family="Liberation Serif" font-size="11" text-anchor="middle" fill="#1e1e1e" font-weight="normal"  stroke="#1e1e1e" stroke-width="0.08">9.72</text>
<text xml:space="preserve" x="427.97" y="528.38" font-family="Liberation Serif" font-size="11" text-anchor="middle" fill="#1e1e1e" font-weight="normal"  stroke="#1e1e1e" stroke-width="0.08">7.08</text>
<text xml:space="preserve" x="807.72" y="527.75" font-family="Liberation Serif" font-size="11" text-anchor="middle" fill="#1e1e1e" font-weight="normal"  stroke="#1e1e1e" stroke-width="0.08">6.28</text>
<text xml:space="preserve" x="757.86" y="291" font-family="Liberation Serif" font-size="11" text-anchor="middle" fill="#1e1e1e" font-weight="normal"  stroke="#1e1e1e" stroke-width="0.08">3.46</text>
<text xml:space="preserve" x="910.92" y="286.35" font-family="Liberation Serif" font-size="11" text-anchor="middle" fill="#1e1e1e" font-weight="normal"  stroke="#1e1e1e" stroke-width="0.08">3.68</text>
<text xml:space="preserve" x="251.58" y="403.17" font-family="Liberation Serif" font-size="11" text-anchor="middle" fill="#1e1e1e" font-weight="normal"  stroke="#1e1e1e" stroke-width="0.08">1.21</text>
<text xml:space="preserve" x="604.98" y="436.01" font-family="Liberation Serif" font-size="11" text-anchor="middle" fill="#1e1e1e" font-weight="normal"  stroke="#1e1e1e" stroke-width="0.08">1.21</text>
<text xml:space="preserve" x="654.56" y="469.21" font-family="Liberation Serif" font-size="11" text-anchor="middle" fill="#1e1e1e" font-weight="normal"  stroke="#1e1e1e" stroke-width="0.08">1.01</text>
<text xml:space="preserve" x="417.5" y="428.3" font-family="Liberation Serif" font-size="11" text-anchor="middle" fill="#1e1e1e" font-weight="normal"  stroke="#1e1e1e" stroke-width="0.08">0.31</text>
<text xml:space="preserve" x="862.48" y="385.4" font-family="Liberation Serif" font-size="11" text-anchor="middle" fill="#1e1e1e" font-weight="normal"  stroke="#1e1e1e" stroke-width="0.08">0.31</text>
<text xml:space="preserve" x="583.78" y="418.82" font-family="Liberation Serif" font-size="11" text-anchor="middle" fill="#1e1e1e" font-weight="normal"  stroke="#1e1e1e" stroke-width="0.08">0.60</text>
<text xml:space="preserve" x="678.74" y="417.86" font-family="Liberation Serif" font-size="11" text-anchor="middle" fill="#1e1e1e" font-weight="normal"  stroke="#1e1e1e" stroke-width="0.08">0.60</text>
<text xml:space="preserve" x="332.86" y="447.16" font-family="Liberation Serif" font-size="11" text-anchor="middle" fill="#1e1e1e" font-weight="normal" transform="rotate(-90 332.86 443.86)"  stroke="#1e1e1e" stroke-width="0.08">4.69</text>
<text xml:space="preserve" x="237.98" y="471.52" font-family="Liberation Serif" font-size="11" text-anchor="middle" fill="#1e1e1e" font-weight="normal" transform="rotate(-90 237.98 468.22)"  stroke="#1e1e1e" stroke-width="0.08">4.09</text>
<text xml:space="preserve" x="701.21" y="315.79" font-family="Liberation Serif" font-size="11" text-anchor="middle" fill="#1e1e1e" font-weight="normal" transform="rotate(90 701.21 312.49)"  stroke="#1e1e1e" stroke-width="0.08">2.00</text>
<text xml:space="preserve" x="852.55" y="308.46" font-family="Liberation Serif" font-size="11" text-anchor="middle" fill="#1e1e1e" font-weight="normal" transform="rotate(-90 852.55 305.16)"  stroke="#1e1e1e" stroke-width="0.08">1.80</text>
<text xml:space="preserve" x="931.82" y="451.31" font-family="Liberation Serif" font-size="11" text-anchor="middle" fill="#1e1e1e" font-weight="normal" transform="rotate(-80.4 931.82 448.01)"  stroke="#1e1e1e" stroke-width="0.08">4.72</text>
<text xml:space="preserve" x="572.11" y="485.14" font-family="Liberation Serif" font-size="11" text-anchor="middle" fill="#1e1e1e" font-weight="normal" transform="rotate(-90 572.11 481.84)"  stroke="#1e1e1e" stroke-width="0.08">2.11</text>
<text xml:space="preserve" x="678.46" y="502.56" font-family="Liberation Serif" font-size="11" text-anchor="middle" fill="#1e1e1e" font-weight="normal" transform="rotate(90 678.46 499.26)"  stroke="#1e1e1e" stroke-width="0.08">1.36</text>
<text xml:space="preserve" x="638.99" y="455.47" font-family="Liberation Serif" font-size="11" text-anchor="middle" fill="#1e1e1e" font-weight="normal" transform="rotate(-90 638.99 452.17)"  stroke="#1e1e1e" stroke-width="0.08">0.80</text>
<text xml:space="preserve" x="812.66" y="360.99" font-family="Liberation Serif" font-size="11" text-anchor="middle" fill="#1e1e1e" font-weight="normal" transform="rotate(-90 812.66 357.69)"  stroke="#1e1e1e" stroke-width="0.08">0.80</text>
<text xml:space="preserve" x="438.43" y="403.48" font-family="Liberation Serif" font-size="11" text-anchor="middle" fill="#1e1e1e" font-weight="normal" transform="rotate(90 438.43 400.18)"  stroke="#1e1e1e" stroke-width="0.08">0.60</text>
<text xml:space="preserve" x="564.87" y="400.61" font-family="Liberation Serif" font-size="11" text-anchor="middle" fill="#1e1e1e" font-weight="normal" transform="rotate(90 564.87 397.31)"  stroke="#1e1e1e" stroke-width="0.08">0.30</text>
<text xml:space="preserve" x="652.93" y="399.82" font-family="Liberation Serif" font-size="11" text-anchor="middle" fill="#1e1e1e" font-weight="normal" transform="rotate(90 652.93 396.52)"  stroke="#1e1e1e" stroke-width="0.08">0.30</text>
<circle cx="898.01" cy="317.11" r="7.7" fill="none" stroke="#1e1e1e" stroke-width="1.0"/>
<text xml:space="preserve" x="898.01" y="321.43" font-family="Liberation Sans" font-size="12" text-anchor="middle" fill="#1e1e1e">3</text>
<circle cx="795.25" cy="441.19" r="8.3" fill="none" stroke="#1e1e1e" stroke-width="1.0"/>
<text xml:space="preserve" x="795.25" y="445.51" font-family="Liberation Sans" font-size="12" text-anchor="middle" fill="#1e1e1e">1</text>
<circle cx="252.96" cy="508.16" r="8.3" fill="none" stroke="#1e1e1e" stroke-width="1.0"/>
<text xml:space="preserve" x="252.96" y="512.48" font-family="Liberation Sans" font-size="12" text-anchor="middle" fill="#1e1e1e">2</text>
<circle cx="594.17" cy="524.51" r="7.9" fill="none" stroke="#1e1e1e" stroke-width="1.0"/>
<text xml:space="preserve" x="594.17" y="528.83" font-family="Liberation Sans" font-size="12" text-anchor="middle" fill="#1e1e1e">4</text>
<line x1="450.11" y1="607.31" x2="813.5" y2="607.31" stroke="#2a2a2a" stroke-width="1.2"/>
<line x1="450.27" y1="630.09" x2="813.63" y2="630.09" stroke="#2a2a2a" stroke-width="1.1"/>
<line x1="450.28" y1="632.79" x2="813.65" y2="632.79" stroke="#2a2a2a" stroke-width="1.1"/>
<line x1="450.38" y1="646.78" x2="813.73" y2="646.78" stroke="#2a2a2a" stroke-width="1.1"/>
<line x1="450.47" y1="660.66" x2="813.81" y2="660.66" stroke="#2a2a2a" stroke-width="1.1"/>
<line x1="450.57" y1="674.74" x2="813.89" y2="674.74" stroke="#2a2a2a" stroke-width="1.1"/>
<line x1="450.66" y1="688.83" x2="813.97" y2="688.83" stroke="#2a2a2a" stroke-width="1.1"/>
<line x1="450.75" y1="702.71" x2="814.05" y2="702.71" stroke="#2a2a2a" stroke-width="1.1"/>
<line x1="450.85" y1="716.49" x2="814.13" y2="716.49" stroke="#2a2a2a" stroke-width="1.1"/>
<line x1="451.32" y1="787.07" x2="814.54" y2="787.07" stroke="#2a2a2a" stroke-width="1.2"/>
<line x1="450.37" y1="607.31" x2="450.37" y2="787.09" stroke="#2a2a2a" stroke-width="1.2"/>
<line x1="813.72" y1="607.34" x2="813.72" y2="787.1" stroke="#2a2a2a" stroke-width="1.2"/>
<line x1="535.87" y1="608.01" x2="535.87" y2="646.98" stroke="#2a2a2a" stroke-width="1.1"/>
<line x1="536.23" y1="660.76" x2="536.23" y2="702.81" stroke="#2a2a2a" stroke-width="1.1"/>
<line x1="674.35" y1="608.01" x2="674.35" y2="646.97" stroke="#2a2a2a" stroke-width="1.1"/>
<line x1="674.68" y1="660.76" x2="674.68" y2="702.81" stroke="#2a2a2a" stroke-width="1.1"/>
<text xml:space="preserve" x="452.21" y="621.78" font-family="Liberation Sans" font-size="11.5" text-anchor="start" fill="#222" font-weight="normal" textLength="81.7" lengthAdjust="spacingAndGlyphs" >Numar incapere</text>
<text xml:space="preserve" x="551.33" y="622.78" font-family="Liberation Sans" font-size="11.5" text-anchor="start" fill="#222" font-weight="normal" textLength="97" lengthAdjust="spacingAndGlyphs" >Denumire incapere</text>
<text xml:space="preserve" x="689.51" y="623.28" font-family="Liberation Sans" font-size="11.5" text-anchor="start" fill="#222" font-weight="normal" textLength="100.9" lengthAdjust="spacingAndGlyphs" >Suprafata utila [mp]</text>
<text xml:space="preserve" x="490.32" y="644.28" font-family="Liberation Sans" font-size="11.5" text-anchor="middle" fill="#222" font-weight="normal" >1</text>
<text xml:space="preserve" x="543.97" y="643.93" font-family="Liberation Sans" font-size="11.5" text-anchor="start" fill="#222" font-weight="normal" >Spatiu hobby</text>
<text xml:space="preserve" x="734.59" y="643.9" font-family="Liberation Sans" font-size="11.5" text-anchor="middle" fill="#222" font-weight="normal" >78.54</text>
<text xml:space="preserve" x="531.57" y="657.44" font-family="Liberation Sans" font-size="11.5" text-anchor="start" fill="#222" font-weight="normal" textLength="134.2" lengthAdjust="spacingAndGlyphs" >Suprafata utila = 78.54 mp</text>
<text xml:space="preserve" x="490.21" y="672.35" font-family="Liberation Sans" font-size="11.5" text-anchor="middle" fill="#222" font-weight="normal" >2</text>
<text xml:space="preserve" x="544.15" y="672" font-family="Liberation Sans" font-size="11.5" text-anchor="start" fill="#222" font-weight="normal" >Balcon</text>
<text xml:space="preserve" x="734.56" y="671.97" font-family="Liberation Sans" font-size="11.5" text-anchor="middle" fill="#222" font-weight="normal" >4.93</text>
<text xml:space="preserve" x="490.3" y="686.23" font-family="Liberation Sans" font-size="11.5" text-anchor="middle" fill="#222" font-weight="normal" >3</text>
<text xml:space="preserve" x="544.24" y="685.88" font-family="Liberation Sans" font-size="11.5" text-anchor="start" fill="#222" font-weight="normal" >Balcon</text>
<text xml:space="preserve" x="734.64" y="685.86" font-family="Liberation Sans" font-size="11.5" text-anchor="middle" fill="#222" font-weight="normal" >6.28</text>
<text xml:space="preserve" x="490.39" y="700.01" font-family="Liberation Sans" font-size="11.5" text-anchor="middle" fill="#222" font-weight="normal" >4</text>
<text xml:space="preserve" x="544.33" y="699.67" font-family="Liberation Sans" font-size="11.5" text-anchor="start" fill="#222" font-weight="normal" >Casa scarii</text>
<text xml:space="preserve" x="734.72" y="699.54" font-family="Liberation Sans" font-size="11.5" text-anchor="middle" fill="#222" font-weight="normal" >4.58</text>
<text xml:space="preserve" x="531.44" y="713.78" font-family="Liberation Sans" font-size="11.5" text-anchor="start" fill="#222" font-weight="normal" textLength="141.7" lengthAdjust="spacingAndGlyphs" >Suprafata totala = 94.33 mp</text>
<text xml:space="preserve" x="467.41" y="728.01" font-family="Liberation Sans" font-size="11.5" text-anchor="start" fill="#222" font-weight="normal" >Executant,</text>
<text xml:space="preserve" x="467.5" y="741.59" font-family="Liberation Sans" font-size="11.5" text-anchor="start" fill="#222" font-weight="normal" textLength="93" lengthAdjust="spacingAndGlyphs" >Ing. Rosca Marian</text>
</svg>
<svg id="ov" width="1200" height="844" viewBox="0 0 1200 844">
<line x1="11.3" y1="0" x2="10.8" y2="844" stroke="#9c9c9c" stroke-width="1.8"/>
<path d="M447.2,445.5 V377.5 H546.6 V418.8" fill="none" stroke="#6e3040" stroke-width="2.8" stroke-linejoin="miter"/>
<rect x="461.40" y="392.50" width="16.60" height="16.60" fill="none" stroke="#6e3040" stroke-width="2.8"/>
<rect x="489.70" y="392.50" width="16.60" height="16.60" fill="none" stroke="#6e3040" stroke-width="2.8"/>
<rect x="518.10" y="392.50" width="16.60" height="16.60" fill="none" stroke="#6e3040" stroke-width="2.8"/>
<path d="M436.9,466.3 L530.6,416.5 L560.4,438.5" fill="none" stroke="#dc6838" stroke-width="2.8" stroke-linejoin="miter"/>
<path d="M476.4,445.3 V418.6 H483.2 V441.7" fill="none" stroke="#dc6838" stroke-width="2.6"/>
<rect x="521.65" y="437.55" width="16.70" height="16.70" fill="none" stroke="#dc6838" stroke-width="2.8"/>
<path d="M582.1,378.2 V415 M582.1,379.6 H591 A7.6,7.6 0 0 1 591,394.8 H582.1 M582.1,394.8 H595.5 A9.4,9.4 0 0 1 595.5,413.6 H582.1" fill="none" stroke="#262626" stroke-width="2.7" stroke-linecap="butt" stroke-linejoin="round"/>
<path d="M611.7,378.2 V413.6 H624.9" fill="none" stroke="#262626" stroke-width="2.7" stroke-linecap="butt" stroke-linejoin="round"/>
<path d="M632.6,378.2 V415" fill="none" stroke="#262626" stroke-width="2.7" stroke-linecap="butt" stroke-linejoin="round"/>
<path d="M658.6,384.4 C656.8,381.2 653.8,379.6 650,379.6 C644.6,379.6 641.0,382.8 641.0,387.2 C641.0,392.5 645.5,394.6 650,396 C655.8,397.8 659.7,400.7 659.7,405.5 C659.7,410.5 655.4,413.6 650,413.6 C645.4,413.6 642.0,411.6 640.2,408.2" fill="none" stroke="#262626" stroke-width="2.7" stroke-linecap="butt" stroke-linejoin="round"/>
<g transform="translate(28.6,0)"><path d="M658.6,384.4 C656.8,381.2 653.8,379.6 650,379.6 C644.6,379.6 641.0,382.8 641.0,387.2 C641.0,392.5 645.5,394.6 650,396 C655.8,397.8 659.7,400.7 659.7,405.5 C659.7,410.5 655.4,413.6 650,413.6 C645.4,413.6 642.0,411.6 640.2,408.2" fill="none" stroke="#262626" stroke-width="2.7"/></g>
<path d="M582.3,427.4 V465.8" fill="none" stroke="#262626" stroke-width="2.6" stroke-linecap="butt" stroke-linejoin="round"/>
<path d="M590.4,465.8 V452.5 A6.45,6.45 0 0 1 603.3,452.5 V465.8 M603.3,452.5 A6.9,6.9 0 0 1 617.1,452.5 V465.8" fill="none" stroke="#262626" stroke-width="2.6" stroke-linecap="butt" stroke-linejoin="round"/>
<ellipse cx="633" cy="455.3" rx="10.5" ry="9.7" fill="none" stroke="#262626" stroke-width="2.6"/>
<path d="M649.3,427.4 V465.8" fill="none" stroke="#262626" stroke-width="2.6" stroke-linecap="butt" stroke-linejoin="round"/>
<ellipse cx="659.9" cy="455.3" rx="9.9" ry="9.7" fill="none" stroke="#262626" stroke-width="2.6"/>
<path d="M677.1,445 V465.8 M685.0,427.4 V465.8 M693.4,445 V465.8" fill="none" stroke="#262626" stroke-width="2.6" stroke-linecap="butt" stroke-linejoin="round"/>
<circle cx="677.1" cy="438.75" r="2.1" fill="#262626"/><circle cx="693.1" cy="438.75" r="2.1" fill="#262626"/>
<ellipse cx="709.95" cy="455.3" rx="10.6" ry="9.7" fill="none" stroke="#262626" stroke-width="2.6"/>
<path d="M720.7,445 V465.8" fill="none" stroke="#262626" stroke-width="2.6" stroke-linecap="butt" stroke-linejoin="round"/>
<path d="M727,445 V465.8 M727,453.5 C727,448 731,445.3 737.8,446.7" fill="none" stroke="#262626" stroke-width="2.6" stroke-linecap="butt" stroke-linejoin="round"/>
<path d="M741.5,455 H762.1 A10.3,9.7 0 1 0 760.3,461.2" fill="none" stroke="#262626" stroke-width="2.6" stroke-linecap="butt" stroke-linejoin="round"/>
<path d="M566,742 C565,730 566,722 570,721.5 C576,721 581,728 581.4,740 C581.5,750 578,758 574,761" fill="none" stroke="#2a78c6" stroke-width="1.3" stroke-linecap="round" stroke-linejoin="round"/>
<path d="M565,769 L568.5,745 L570,739 L571,757 L572,773" fill="none" stroke="#2266b8" stroke-width="1.8" stroke-linecap="round" stroke-linejoin="round"/>
<path d="M575.1,761.3 L585.2,753.3 L576.6,775.4 L588.2,775.4" fill="none" stroke="#2a78c6" stroke-width="1.5" stroke-linecap="round" stroke-linejoin="round"/>
<path d="M585,770 L588.5,752 L591,773 L593,758 L595.5,777 L597,763 L599,778 L602.5,768 L604.5,765 C605.5,772 606,779 603,782.5 C600,785 594,785 588.5,784" fill="none" stroke="#2a78c6" stroke-width="1.5" stroke-linecap="round" stroke-linejoin="round"/>
<path d="M585.7,783.5 L590.2,797.6" fill="none" stroke="#2266b8" stroke-width="1.6" stroke-linecap="round" stroke-linejoin="round"/>
<text x="818.1" y="714.09" font-family="Liberation Sans" font-weight="bold" font-size="13.3" text-anchor="middle" fill="#2270b8" stroke="#2270b8" stroke-width="0.45" textLength="75" lengthAdjust="spacingAndGlyphs" transform="rotate(4.6 818.1 709.3)">CERTIFICAT</text>
<text x="817.4" y="729.39" font-family="Liberation Sans" font-weight="bold" font-size="13.3" text-anchor="middle" fill="#2270b8" stroke="#2270b8" stroke-width="0.45" textLength="14.5" lengthAdjust="spacingAndGlyphs" transform="rotate(4.6 817.4 724.6)">DE</text>
<text x="815.1" y="744.79" font-family="Liberation Sans" font-weight="bold" font-size="13.3" text-anchor="middle" fill="#2270b8" stroke="#2270b8" stroke-width="0.45" textLength="81.6" lengthAdjust="spacingAndGlyphs" transform="rotate(4.6 815.1 740.0)">AUTORIZARE</text>
<text x="814.1" y="758.14" font-family="Liberation Sans" font-weight="bold" font-size="11.5" text-anchor="middle" fill="#2270b8" stroke="#2270b8" stroke-width="0.45" textLength="105.8" lengthAdjust="spacingAndGlyphs" transform="rotate(5.2 814.1 754.0)">Seria RO-MB-F Nr. 0212</text>
<text x="812.0" y="776.20" font-family="Liberation Sans" font-weight="bold" font-size="15" text-anchor="middle" fill="#2270b8" stroke="#2270b8" stroke-width="0.45" textLength="85.7" lengthAdjust="spacingAndGlyphs" transform="rotate(4.6 812.0 770.8)">ROŞCA GH.</text>
<text x="810.9" y="794.30" font-family="Liberation Sans" font-weight="bold" font-size="15" text-anchor="middle" fill="#2270b8" stroke="#2270b8" stroke-width="0.45" textLength="59.9" lengthAdjust="spacingAndGlyphs" transform="rotate(4.6 810.9 788.9)">MARIAN</text>
<defs><path id="ring" d="M768.57,795.66 A64.5,64.5 0 1 1 856.21,803.33"/><path id="catg" d="M776.52,811.78 A71.5,71.5 0 0 0 838.59,820.50"/></defs>
<text font-family="Liberation Sans" font-weight="bold" font-size="10" fill="#2270b8" stroke="#2270b8" stroke-width="0.6"><textPath href="#ring" textLength="304" lengthAdjust="spacingAndGlyphs">Autorizat de ANCPI de executare lucrari de cadastru, geodezie si cartografie</textPath></text>
<text font-family="Liberation Sans" font-weight="bold" font-size="10.5" fill="#2270b8" stroke="#2270b8" stroke-width="0.35"><textPath href="#catg" textLength="62" lengthAdjust="spacingAndGlyphs">CATEGORIA B</textPath></text>
<path d="M787.84,823.43 A76.5,76.5 0 0 0 852.41,820.05" fill="none" stroke="#2270b8" stroke-width="1.2"/>
<path d="M881.38,711.96 A76.5,76.5 0 0 1 888.39,778.66" fill="none" stroke="#2270b8" stroke-width="1.3" stroke-dasharray="1.5 5"/>
<circle cx="866.7" cy="808.2" r="1.8" fill="#2270b8"/>
<circle cx="872.5" cy="815.0" r="1.0" fill="#2270b8"/>
<circle cx="861.3" cy="784.0" r="1.6" fill="#2270b8"/>
<circle cx="760.2" cy="798.6" r="1.3" fill="#2270b8"/>
<path d="M743,718 L752,704 M745,711 L750,703" stroke="#2270b8" stroke-width="1.2"/>
</svg>
</body></html>
